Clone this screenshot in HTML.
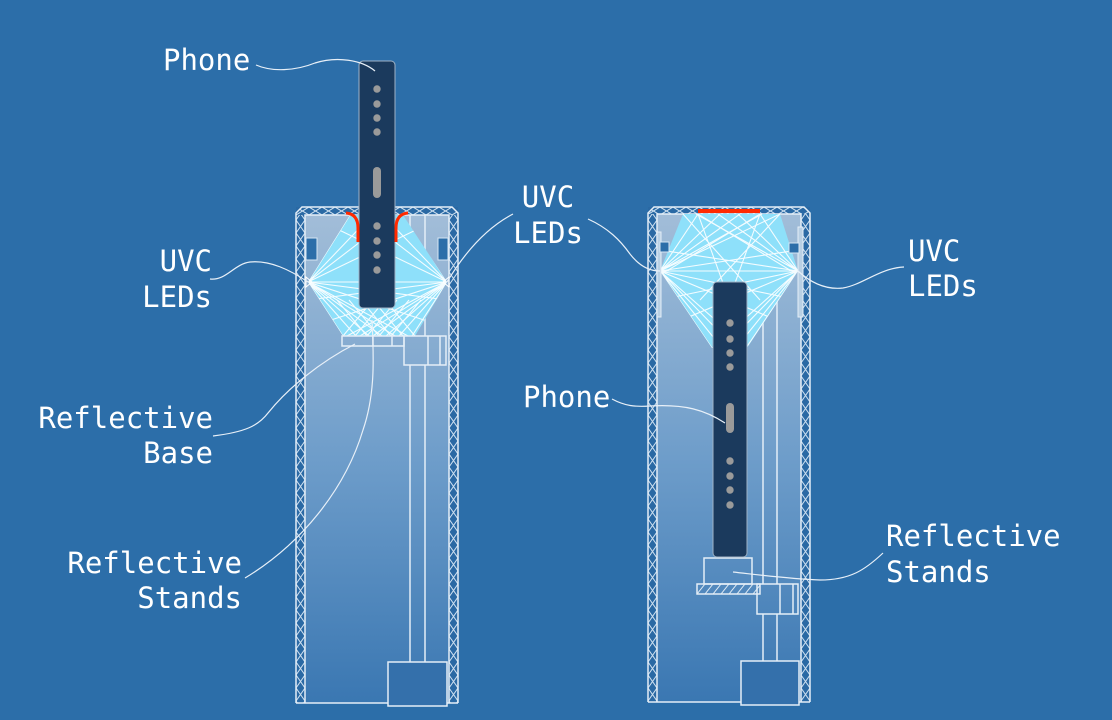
<!DOCTYPE html>
<html><head><meta charset="utf-8"><style>
html,body{margin:0;padding:0;background:#2c6ea9;}
svg{display:block}
text{font-family:"DejaVu Sans Mono","Liberation Mono",monospace;font-size:29px;fill:#ffffff;}
</style></head><body>
<svg width="1112" height="720" viewBox="0 0 1112 720" xmlns="http://www.w3.org/2000/svg">
<defs>
<pattern id="hA" x="296" y="207" width="9" height="13" patternUnits="userSpaceOnUse">
<path d="M0,0L9,13M9,0L0,13" stroke="#cfe1f1" stroke-width="1"/>
</pattern>
<pattern id="hB" x="648" y="207" width="9" height="13" patternUnits="userSpaceOnUse">
<path d="M0,0L9,13M9,0L0,13" stroke="#cfe1f1" stroke-width="1"/>
</pattern>
<pattern id="hT" x="296" y="207" width="13" height="8" patternUnits="userSpaceOnUse">
<path d="M0,0L13,8M13,0L0,8" stroke="#cfe1f1" stroke-width="1"/>
</pattern>
<pattern id="hC" x="697" y="584" width="8" height="10" patternUnits="userSpaceOnUse">
<path d="M0,10L8,0" stroke="#e0ecf6" stroke-width="1"/>
</pattern>
<linearGradient id="gi" x1="0" y1="0" x2="0" y2="1">
<stop offset="0" stop-color="#a2bdd8"/>
<stop offset="0.5" stop-color="#6e9dca"/>
<stop offset="1" stop-color="#3a77b2"/>
</linearGradient>
<clipPath id="cA"><polygon points="350,215 403,215 447,282 415,336 343,336 308,282"/></clipPath>
<clipPath id="cB"><polygon points="683,214 780,214 798,271 747,348 712,348 660,271"/></clipPath>
</defs>
<rect width="1112" height="720" fill="#2c6ea9"/>

<!-- ================= LEFT DEVICE ================= -->
<rect x="305" y="215" width="144" height="488" fill="url(#gi)"/>
<rect x="296" y="207" width="162" height="8" fill="#2a69a4"/>
<rect x="296" y="213" width="9" height="490" fill="#2a69a4"/>
<rect x="449" y="213" width="9" height="490" fill="#2a69a4"/>
<polygon points="296,213 302,207 452,207 458,213 458,215 296,215" fill="url(#hT)"/>
<rect x="296" y="215" width="9" height="488" fill="url(#hA)"/>
<rect x="449" y="215" width="9" height="488" fill="url(#hA)"/>
<g fill="none" stroke="#e4eef7" stroke-width="1.5">
<path d="M296,703 V213 L302,207 H452 L458,213 V703"/>
<path d="M305,703 V215 H449 V703"/>
<path d="M296,703 H458"/>
</g>
<rect x="306" y="238" width="11" height="22" fill="#2c6ea9" stroke="#d6e6f4" stroke-width="1"/>
<rect x="438" y="238" width="10" height="22" fill="#2c6ea9" stroke="#d6e6f4" stroke-width="1"/>

<g stroke="#e4eef7" stroke-width="1.5">
<path d="M410,215 V336 M425,215 V336 M410,365 V662 M425,365 V662"/>
</g>

<polygon points="350,215 403,215 447,282 415,336 343,336 308,282" fill="#8ee0fa"/>
<g clip-path="url(#cA)" stroke="#ffffff" stroke-width="1.1" opacity="0.9" fill="none">
<path d="M308,282 L350,215 M308,282 L372,215 M308,282 L395,215 M308,282 L420,228 M308,282 L447,282 M308,282 L447,300 M308,282 L343,336 M308,282 L356,336 M308,282 L369,336 M308,282 L382,336 M308,282 L395,336 M308,282 L408,336 M308,282 L430,322"/>
<path d="M447,282 L405,215 M447,282 L383,215 M447,282 L360,215 M447,282 L335,228 M447,282 L308,300 M447,282 L412,336 M447,282 L399,336 M447,282 L386,336 M447,282 L373,336 M447,282 L360,336 M447,282 L347,336 M447,282 L325,322"/>
<path d="M343,336 L373,300 M355,336 L385,300 M367,336 L397,300 M379,336 L409,300 M391,336 L421,300 M415,336 L385,300 M403,336 L373,300 M391,336 L361,300 M379,336 L349,300 M367,336 L337,300"/>
</g>
<polygon points="306,277 312,282 306,287" fill="none" stroke="#fff" stroke-width="1"/>
<polygon points="449,277 443,282 449,287" fill="none" stroke="#fff" stroke-width="1"/>

<g fill="none" stroke="#e4eef7" stroke-width="1.5">
<rect x="342" y="336" width="62" height="10"/>
<path d="M373,336 V346 M392,336 V346"/>
<rect x="404" y="336" width="42" height="29"/>
<path d="M428,336 V365 M440,336 V365"/>
</g>
<rect x="388" y="662" width="59" height="44" fill="#3470ab" stroke="#e4eef7" stroke-width="1.5"/>

<rect x="359" y="61" width="36" height="247" rx="4" fill="#1b3a5d" stroke="#9fb3c6" stroke-width="1"/>
<g fill="#9a9a9a">
<circle cx="377" cy="89" r="3.7"/><circle cx="377" cy="104" r="3.7"/><circle cx="377" cy="118" r="3.7"/><circle cx="377" cy="132" r="3.7"/>
<rect x="373" y="167" width="8" height="31" rx="4"/>
<circle cx="377" cy="226" r="3.7"/><circle cx="377" cy="241" r="3.7"/><circle cx="377" cy="255" r="3.7"/><circle cx="377" cy="270" r="3.7"/>
</g>
<g fill="none" stroke="#ff2a00" stroke-width="3">
<path d="M346,213 Q358,214 358,228 V242"/>
<path d="M408,213 Q396,214 396,228 V242"/>
</g>

<!-- ================= RIGHT DEVICE ================= -->
<rect x="657" y="214" width="144" height="488" fill="url(#gi)"/>
<rect x="648" y="207" width="162" height="7" fill="#2a69a4"/>
<rect x="648" y="213" width="9" height="489" fill="#2a69a4"/>
<rect x="801" y="213" width="9" height="489" fill="#2a69a4"/>
<polygon points="648,213 654,207 804,207 810,213 810,214 648,214" fill="url(#hT)"/>
<rect x="648" y="214" width="9" height="488" fill="url(#hB)"/>
<rect x="801" y="214" width="9" height="488" fill="url(#hB)"/>
<g fill="none" stroke="#e4eef7" stroke-width="1.5">
<path d="M648,702 V213 L654,207 H804 L810,213 V702"/>
<path d="M657,702 V214 H801 V702"/>
<path d="M648,702 H810"/>
</g>
<rect x="698" y="209" width="62" height="4" fill="#ff2a00"/>

<g stroke="#e4eef7" stroke-width="1.5">
<path d="M763,214 V584 M777,214 V584 M763,614 V661 M777,614 V661"/>
</g>

<polygon points="683,214 780,214 798,271 747,348 712,348 660,271" fill="#8ee0fa"/>
<g clip-path="url(#cB)" stroke="#ffffff" stroke-width="1.1" opacity="0.9" fill="none">
<path d="M660,271 L698,214 M660,271 L720,214 M660,271 L740,214 M660,271 L762,214 M660,271 L780,214 M660,271 L798,271 M660,271 L798,250 M660,271 L712,348 M660,271 L722,348 M660,271 L735,348 M660,271 L747,348 M660,271 L798,300 M660,271 L800,330"/>
<path d="M798,271 L760,214 M798,271 L738,214 M798,271 L718,214 M798,271 L696,214 M798,271 L660,250 M798,271 L746,348 M798,271 L736,348 M798,271 L723,348 M798,271 L712,348 M798,271 L660,300 M798,271 L658,330"/>
<path d="M698,214 L740,330 M760,214 L718,330 M698,214 L798,275 M760,214 L660,275 M683,214 L760,300 M780,214 L700,300"/>
</g>
<rect x="657" y="232" width="4" height="85" fill="#b9d0e4" stroke="#e4eef7" stroke-width="1"/>
<rect x="798" y="227" width="5" height="90" fill="#b9d0e4" stroke="#e4eef7" stroke-width="1"/>
<rect x="660" y="242" width="9" height="10" fill="#2c6ea9" stroke="#d6e6f4" stroke-width="1"/>
<rect x="789" y="243" width="10" height="10" fill="#2c6ea9" stroke="#d6e6f4" stroke-width="1"/>

<g fill="none" stroke="#e4eef7" stroke-width="1.5">
<rect x="704" y="558" width="48" height="26"/>
<rect x="757" y="584" width="41" height="30"/>
<path d="M780,584 V614 M793,584 V614"/>
</g>
<rect x="697" y="584" width="63" height="10" fill="url(#hC)" stroke="#e4eef7" stroke-width="1.5"/>
<rect x="741" y="661" width="58" height="44" fill="#3470ab" stroke="#e4eef7" stroke-width="1.5"/>

<rect x="713" y="282" width="34" height="275" rx="4" fill="#1b3a5d" stroke="#9fb3c6" stroke-width="1"/>
<g fill="#9a9a9a">
<circle cx="730" cy="323" r="3.7"/><circle cx="730" cy="339" r="3.7"/><circle cx="730" cy="353" r="3.7"/><circle cx="730" cy="367" r="3.7"/>
<rect x="726" y="403" width="8" height="30" rx="4"/>
<circle cx="730" cy="461" r="3.7"/><circle cx="730" cy="476" r="3.7"/><circle cx="730" cy="490" r="3.7"/><circle cx="730" cy="505" r="3.7"/>
</g>

<!-- ================= CONNECTORS ================= -->
<g fill="none" stroke="#e8f0f8" stroke-width="1.2">
<path d="M256,65 C272,72 295,71 315,63 C337,56 362,60 375,71"/>
<path d="M210,279 C226,281 234,264 250,262 C270,260 290,270 308,282"/>
<path d="M213,436 C245,432 258,426 268,413 C288,388 320,362 355,344"/>
<path d="M245,578 C300,545 345,490 363,430 C375,395 374,360 372,320"/>
<path d="M513,214 C490,226 468,247 447,282"/>
<path d="M588,219 C608,228 620,240 630,254 C640,267 650,271 660,271"/>
<path d="M904,267 C880,268 862,285 843,288 C825,290 810,282 798,271"/>
<path d="M612,399 C625,406 635,407 650,406 C685,404 705,410 725,423"/>
<path d="M883,553 C865,570 850,580 820,580 C790,579 760,575 733,572"/>
</g>

<!-- ================= LABELS ================= -->
<text x="163" y="70">Phone</text>
<text x="212" y="271" text-anchor="end">UVC</text>
<text x="212" y="307" text-anchor="end">LEDs</text>
<text x="213" y="428" text-anchor="end">Reflective</text>
<text x="213" y="463" text-anchor="end">Base</text>
<text x="242" y="573" text-anchor="end">Reflective</text>
<text x="242" y="608" text-anchor="end">Stands</text>
<text x="548" y="207" text-anchor="middle">UVC</text>
<text x="548" y="243" text-anchor="middle">LEDs</text>
<text x="908" y="261">UVC</text>
<text x="908" y="296">LEDs</text>
<text x="523" y="407">Phone</text>
<text x="886" y="546">Reflective</text>
<text x="886" y="582">Stands</text>
</svg>
</body></html>
